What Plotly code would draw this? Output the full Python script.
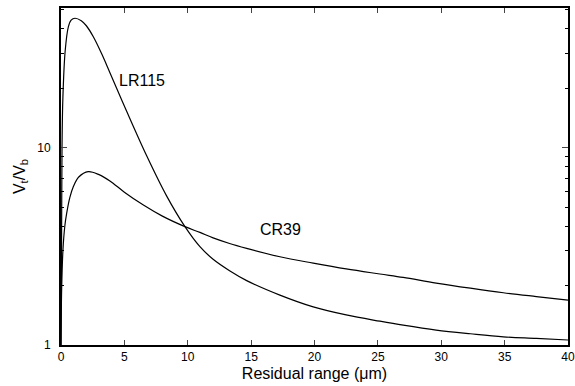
import math
import plotly.graph_objects as go

# Residual range (µm) and Vt/Vb
lr115_x = [0.0, 0.02, 0.05, 0.08, 0.15, 0.33, 0.58, 0.8, 1.1, 1.6, 2.0, 2.55, 3.2, 3.86, 5.18, 6.76, 8.33,
           9.78, 10.96, 12.0, 13.3, 14.65, 17.27, 19.9, 22.5, 25.16, 27.0, 29.6, 32.3, 34.9, 37.5, 40.0]
lr115_y = [1.0, 1.6, 4.0, 10.0, 18.0, 31.0, 41.0, 44.3, 45.3, 44.0, 41.5, 36.5, 30.0, 24.0, 15.3, 9.1, 5.7,
           3.98, 3.15, 2.72, 2.38, 2.12, 1.79, 1.56, 1.42, 1.32, 1.26, 1.19, 1.14, 1.10, 1.08, 1.06]

cr39_x = [0.0, 0.05, 0.15, 0.3, 0.45, 0.7, 0.97, 1.4, 2.15, 3.0, 3.86, 5.0, 6.5, 8.0, 9.78,
          10.96, 12.0, 13.3, 14.65, 17.27, 19.9, 22.5, 25.16, 27.0, 29.6, 32.3, 34.9, 37.5, 40.0]
cr39_y = [1.0, 1.9, 3.0, 4.0, 4.66, 5.6, 6.34, 7.1, 7.56, 7.3, 6.78, 5.95, 5.12, 4.5, 3.98,
          3.72, 3.49, 3.27, 3.09, 2.80, 2.60, 2.43, 2.29, 2.20, 2.06, 1.94, 1.84, 1.76, 1.69]

labels = ["LR115", "CR39"]
label_x = [6.4, 17.3]
label_y = [21.8, 3.83]

x_ticks = [0, 5, 10, 15, 20, 25, 30, 35, 40]
y_ticks = [1, 10]
y_minor = [2, 3, 4, 5, 6, 7, 8, 9, 20, 30, 40, 50]

FONT = "Liberation Sans, Arial, Helvetica, sans-serif"

fig = go.Figure()
for xs, ys in [(lr115_x, lr115_y), (cr39_x, cr39_y)]:
    fig.add_trace(go.Scatter(x=xs, y=ys, mode="lines",
                             line=dict(color="black", width=1.2, shape="spline", smoothing=1.0),
                             showlegend=False, hoverinfo="skip"))

for t, lx, ly in zip(labels, label_x, label_y):
    fig.add_annotation(x=lx, y=math.log10(ly), text=t, showarrow=False,
                       font=dict(family=FONT, size=16, color="black"))

fig.update_layout(
    width=575, height=386,
    margin=dict(l=61, r=7, t=8, b=41),
    paper_bgcolor="white", plot_bgcolor="white",
    font=dict(family=FONT, size=12, color="black"),
    xaxis=dict(range=[0, 40], tickvals=x_ticks, ticks="inside", ticklen=5, tickwidth=1,
               showline=True, linewidth=2, linecolor="black", mirror="allticks",
               showgrid=False, zeroline=False, automargin=False,
               title=dict(text="Residual range (μm)", font=dict(size=16), standoff=4),
               tickfont=dict(size=12)),
    yaxis=dict(type="log", range=[0, 1.708], tickvals=y_ticks, ticks="inside", ticklen=6,
               tickwidth=1, showline=True, linewidth=2, linecolor="black", mirror="allticks",
               showgrid=False, zeroline=False, automargin=False, ticklabelstandoff=6,
               minor=dict(tickvals=y_minor, ticks="inside", ticklen=3, tickwidth=1,
                          showgrid=False, tickcolor="black"),
               title=dict(text="V<sub>t</sub>/V<sub>b</sub>", font=dict(size=16), standoff=8),
               tickfont=dict(size=12)),
)

fig.write_html("out.html", config={"displayModeBar": False},
               post_script="document.body.style.margin='0';")
